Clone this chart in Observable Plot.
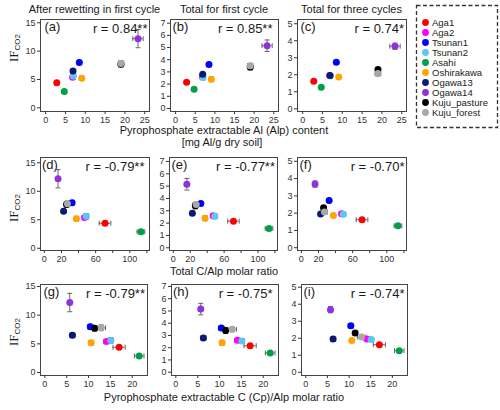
<!DOCTYPE html>
<html><head><meta charset="utf-8">
<script src="https://cdn.jsdelivr.net/npm/d3@7"></script>
<script src="https://cdn.jsdelivr.net/npm/@observablehq/plot@0.6"></script>
<style>
body{margin:0;background:#fff;}
#chart{position:relative;width:500px;height:410px;overflow:hidden;font-family:"Liberation Sans",Arial,sans-serif;}
#chart > svg{position:absolute;overflow:visible;}
</style></head><body><div id="chart"></div>
<script>
// ---------- data ----------
const sites = ["Aga1","Aga2","Tsunan1","Tsunan2","Asahi","Oshirakawa","Ogawa13","Ogawa14","Kuju_pasture","Kuju_forest"];
const siteColors = ["#ff0000","#ff00ff","#0000ff","#5cc6f4","#00a046","#ffa500","#0a1a70","#9030e0","#000000","#a8a8a8"];

const alp      = [2.8, 6.8, 8.5, 7.0, 4.7, 9.1, 6.9, 23.3, 19.0, 19.0];
const alpErr   = [0.1, 0.1, 0.2, 0.2, 0.1, 0.2, 0.2, 1.3, 0.5, 0.7];
const tcAlp    = [71, 47, 32.5, 49, 113, 37.5, 22.5, 16, 26, 27];
const tcAlpErr = [6.8, 2.5, 1.5, 3.0, 4.5, 2.0, 1.5, 0.5, 2.5, 3.5];
const cpAlp    = [17.0, 14.1, 10.4, 15.1, 21.6, 10.6, 6.3, 5.7, 11.4, 12.9];
const cpAlpErr = [1.4, 0.6, 0.6, 0.6, 1.1, 0.5, 0.6, 0.4, 0.4, 1.0];

const ifRewet    = [4.4, 5.4, 8.0, 5.6, 2.9, 5.2, 6.5, 12.2, 7.7, 7.8];
const ifRewetErr = [0.2, 0.3, 0.4, 0.5, 0.3, 0.4, 0.4, 1.6, 0.5, 0.5];
const ifFirst    = [2.16, 2.6, 3.6, 2.55, 1.57, 2.4, 2.8, 5.15, 3.4, 3.5];
const ifFirstErr = [0.1, 0.1, 0.15, 0.2, 0.1, 0.2, 0.15, 0.47, 0.25, 0.2];
const ifThree    = [1.62, 1.96, 2.73, 1.93, 1.27, 1.87, 1.95, 3.68, 2.31, 2.07];
const ifThreeErr = [0.06, 0.08, 0.12, 0.12, 0.06, 0.1, 0.08, 0.18, 0.12, 0.14];

const columnTitles = ["After rewetting in first cycle","Total for first cycle","Total for three cycles"];
const panelLetters = [["(a)","(b)","(c)"],["(d)","(e)","(f)"],["(g)","(h)","(i)"]];
const rLabels = [["r = 0.84**","r = 0.85**","r = 0.74*"],
                 ["r = -0.79**","r = -0.77**","r = -0.70*"],
                 ["r = -0.79**","r = -0.75*","r = -0.74*"]];
const xAxisLabels = [["Pyrophosphate extractable Al (Alp) content","[mg Al/g dry soil]"],
                     ["Total C/Alp molar ratio"],
                     ["Pyrophosphate extractable C (Cp)/Alp molar ratio"]];
const yAxisLabel = ["IF","CO2"];
const xTicks = [[0,5,10,15,20,25],[0,20,40,60,80,100,120],[0,5,10,15,20]];
const xTickLabelsRow2 = [0,20,60,100];
const yTicks = [[0,5,10,15],[0,1,2,3,4,5,6,7],[0,1,2,3,4,5]];

const xSeries = [[alp, alpErr],[tcAlp, tcAlpErr],[cpAlp, cpAlpErr]];
const ySeries = [[ifRewet, ifRewetErr],[ifFirst, ifFirstErr],[ifThree, ifThreeErr]];

// ---------- layout ----------
const ML = 24, MR = 3, MT = 2, MB = 16;
const frames = [ // left, top, width, height of each panel's frame
  [[40,19,109,92],[170,19,108,92],[297,19,109,92]],
  [[40,157,109,93],[169,157,108,93],[297,157,109,93]],
  [[40,284,107,91],[171,284,107,91],[301,284,106,91]]
];
const xDomains = [[-1.3,26.2],[-4.5,123],[-1.0,23.5]];
const yDomains = [
  [[-0.65,15.58],[-0.25,7.3],[-0.16,5.25]],
  [[-0.39,15.93],[-0.22,7.32],[-0.16,5.22]],
  [[-0.52,15.35],[-0.27,7.16],[-0.19,5.16]]
];
const letterDx = [[4,2,3],[1.5,2,2],[3,1.5,2]];
const rDx = [[-2,-6,-2.5],[-5,-2.5,-2],[-2.5,-6,-3]];
const errColor = "#555";
const fontFamily = '"Liberation Sans", Arial, sans-serif';

const capH = {draw(ctx, size){ const r = Math.sqrt(size/Math.PI); ctx.moveTo(-r,0); ctx.lineTo(r,0); }};
const capV = {draw(ctx, size){ const r = Math.sqrt(size/Math.PI); ctx.moveTo(0,-r); ctx.lineTo(0,r); }};

const chart = document.getElementById("chart");

for (let row = 0; row < 3; row++) {
  for (let col = 0; col < 3; col++) {
    const [fl, ft, fw, fh] = frames[row][col];
    const [xv, xe] = xSeries[row];
    const [yv, ye] = ySeries[col];
    const rows = sites.map((s, i) => ({site: s, color: siteColors[i], x: xv[i], xe: xe[i], y: yv[i], ye: ye[i]}));
    const plot = Plot.plot({
      width: fw + ML + MR, height: fh + MT + MB,
      marginLeft: ML, marginRight: MR, marginTop: MT, marginBottom: MB,
      style: {fontSize: "9px", fontFamily, color: "#333", background: "transparent", overflow: "visible"},
      x: {domain: xDomains[row]},
      y: {domain: yDomains[row][col]},
      color: {type: "identity"},
      marks: [
        Plot.frame({stroke: "#444"}),
        Plot.axisX({ticks: xTicks[row], tickSize: 3, tickPadding: 2, label: null,
          tickFormat: row === 1 ? (d => xTickLabelsRow2.includes(d) ? String(d) : "") : (d => String(d))}),
        Plot.axisY({ticks: yTicks[col], tickSize: 3, tickPadding: 2, label: null, tickFormat: d => String(d)}),
        Plot.ruleY(rows, {y: "y", x1: d => d.x - d.xe, x2: d => d.x + d.xe, stroke: errColor, strokeWidth: 0.9}),
        Plot.ruleX(rows, {x: "x", y1: d => d.y - d.ye, y2: d => d.y + d.ye, stroke: errColor, strokeWidth: 0.9}),
        Plot.dot(rows, {x: d => d.x - d.xe, y: "y", symbol: capV, r: 2.5, stroke: errColor, fill: "none", strokeWidth: 0.9}),
        Plot.dot(rows, {x: d => d.x + d.xe, y: "y", symbol: capV, r: 2.5, stroke: errColor, fill: "none", strokeWidth: 0.9}),
        Plot.dot(rows, {x: "x", y: d => d.y - d.ye, symbol: capH, r: 2.5, stroke: errColor, fill: "none", strokeWidth: 0.9}),
        Plot.dot(rows, {x: "x", y: d => d.y + d.ye, symbol: capH, r: 2.5, stroke: errColor, fill: "none", strokeWidth: 0.9}),
        Plot.dot(rows, {x: "x", y: "y", r: 3.5, fill: "color", stroke: "none"}),
        Plot.text([panelLetters[row][col]], {text: d => d, frameAnchor: "top-left", dx: letterDx[row][col], dy: 2,
          lineAnchor: "top", textAnchor: "start", fontSize: 13, fill: "#1a1a1a"}),
        Plot.text([rLabels[row][col]], {text: d => d, frameAnchor: "top-right", dx: rDx[row][col], dy: 4,
          lineAnchor: "top", textAnchor: "end", fontSize: 13, fill: "#1a1a1a"})
      ]
    });
    plot.style.left = (fl - ML) + "px";
    plot.style.top = (ft - MT) + "px";
    chart.appendChild(plot);
  }
}

// ---------- legend ----------
const legend = Plot.plot({
  width: 83, height: 124, margin: 0,
  style: {fontSize: "9.5px", fontFamily, color: "#222", background: "transparent", overflow: "visible"},
  x: {domain: [0, 83], range: [0, 83], axis: null},
  y: {type: "point", domain: sites, range: [11.7, 114.3], axis: null},
  color: {type: "identity"},
  marks: [
    Plot.frame({stroke: "#333", strokeDasharray: "4,2.5", strokeWidth: 1.3, inset: 1}),
    Plot.dot(sites, {x: () => 10, y: d => d, fill: (d, i) => siteColors[i], r: 3.4, stroke: "none"}),
    Plot.text(sites, {x: () => 16.5, y: d => d, text: d => d, textAnchor: "start", fill: "#222"})
  ]
});
legend.style.left = "415px";
legend.style.top = "4px";
chart.appendChild(legend);

// ---------- titles and axis labels ----------
const svg = d3.select(chart).append("svg")
  .attr("width", 500).attr("height", 410)
  .style("left", "0px").style("top", "0px").style("pointer-events", "none")
  .style("font-family", fontFamily);

const colCenters = frames[0].map(f => f[0] + f[2] / 2);
svg.selectAll("text.title").data(columnTitles).join("text")
  .attr("class", "title")
  .attr("x", (d, i) => colCenters[i]).attr("y", 13)
  .attr("text-anchor", "middle").attr("font-size", 11).attr("fill", "#1a1a1a")
  .text(d => d);

const xLabelLines = [
  {text: xAxisLabels[0][0], y: 134, x: 224},
  {text: xAxisLabels[0][1], y: 146, x: 222},
  {text: xAxisLabels[1][0], y: 275, x: 224},
  {text: xAxisLabels[2][0], y: 401, x: 224}
];
svg.selectAll("text.xl").data(xLabelLines).join("text")
  .attr("class", "xl")
  .attr("x", d => d.x).attr("y", d => d.y)
  .attr("text-anchor", "middle").attr("font-size", 11).attr("fill", "#1a1a1a")
  .text(d => d.text);

const yLabelCenters = [48, 208, 332];
yLabelCenters.forEach(cy => {
  const t = svg.append("text")
    .attr("transform", `translate(18,${cy}) rotate(-90)`)
    .attr("text-anchor", "middle").attr("fill", "#1a1a1a");
  t.append("tspan").attr("font-family", '"Liberation Serif", "DejaVu Serif", serif').attr("font-size", 13).text(yAxisLabel[0]);
  t.append("tspan").attr("font-size", 8).attr("dy", 1.5).text(yAxisLabel[1]);
});
</script>
</body></html>
